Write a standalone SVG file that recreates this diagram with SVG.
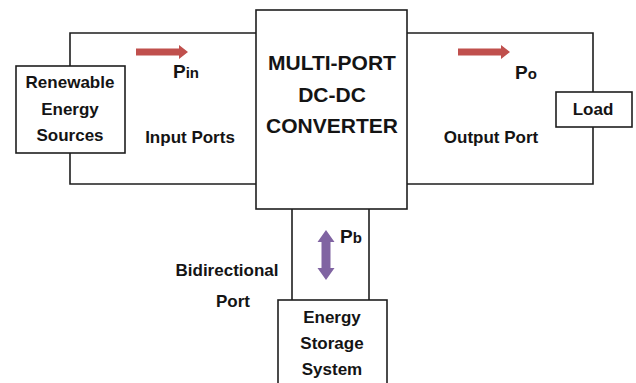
<svg xmlns="http://www.w3.org/2000/svg" width="636" height="383" viewBox="0 0 636 383">
<style>
.ln{fill:none;stroke:#1e1e1e;stroke-width:1.6}
.bx{fill:#fff;stroke:#1e1e1e;stroke-width:1.6}
.t{font-family:"Liberation Sans",Arial,sans-serif;font-weight:bold;fill:#141414;text-anchor:middle}
.s{font-size:17px}
.b{font-size:21px}
.p{font-family:"Liberation Sans",Arial,sans-serif;font-weight:bold;fill:#141414}
</style>
<rect width="636" height="383" fill="#fff"/>
<g id="connectors">
<polyline class="ln" points="256,33 70,33 70,184 256,184"/>
<polyline class="ln" points="407,33 593,33 593,184 407,184"/>
<line class="ln" x1="292" y1="209" x2="292" y2="300"/>
<line class="ln" x1="369" y1="209" x2="369" y2="300"/>
<polygon fill="#c0504d" points="136,48.5 179,48.5 179,45 188,52 179,59 179,55.5 136,55.5"/>
<polygon fill="#c0504d" points="458,48.5 501,48.5 501,45 510,52 501,59 501,55.5 458,55.5"/>
<polygon fill="#8064a2" points="326,230 334.5,242 330.5,242 330.5,268 334.5,268 326,280 317.5,268 321.5,268 321.5,242 317.5,242"/>
<text class="p" x="173" y="78"><tspan font-size="19px">P</tspan><tspan font-size="15px">in</tspan></text>
<text class="p" x="515" y="79"><tspan font-size="19px">P</tspan><tspan font-size="15px">o</tspan></text>
<text class="p" x="340" y="243"><tspan font-size="19px">P</tspan><tspan font-size="15px">b</tspan></text>
<text class="t s" x="190" y="143">Input Ports</text>
<text class="t s" x="491" y="143">Output Port</text>
<text class="t s" x="227" y="276">Bidirectional</text>
<text class="t s" x="233" y="307">Port</text>
</g>
<g id="converter">
<rect class="bx" x="256" y="10" width="151" height="199"/>
<text class="t b" x="332" y="70">MULTI-PORT</text>
<text class="t b" x="332" y="102">DC-DC</text>
<text class="t b" x="332" y="133">CONVERTER</text>
</g>
<g id="renewable">
<rect class="bx" x="16" y="66" width="109" height="87"/>
<text class="t s" x="70" y="88">Renewable</text>
<text class="t s" x="70" y="115">Energy</text>
<text class="t s" x="70" y="141">Sources</text>
</g>
<g id="load">
<rect class="bx" x="556" y="92" width="76" height="35"/>
<text class="t s" x="593" y="115">Load</text>
</g>
<g id="storage">
<rect class="bx" x="278" y="300" width="109" height="90"/>
<text class="t s" x="332" y="323">Energy</text>
<text class="t s" x="332" y="349">Storage</text>
<text class="t s" x="332" y="375">System</text>
</g>
</svg>
